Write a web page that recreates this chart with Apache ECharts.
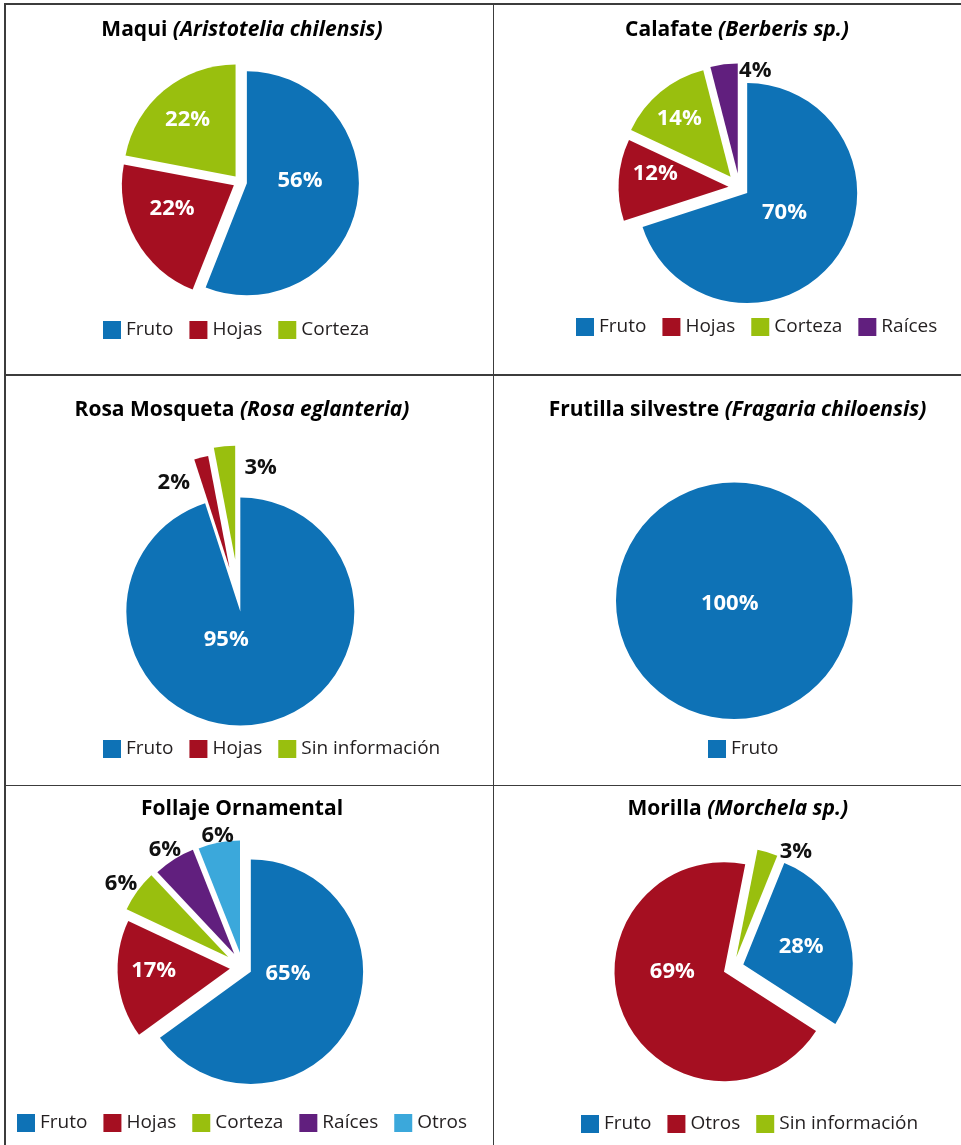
<!DOCTYPE html>
<html><head><meta charset="utf-8">
<script src="https://cdn.jsdelivr.net/npm/echarts@6/dist/echarts.min.js"></script>
<style>
html,body{margin:0;padding:0;background:#fff;}
#chart{position:absolute;left:0;top:0;width:961px;height:1145px;}
.ln{position:absolute;background:#3c3c3c;}
</style></head><body>
<div id="chart"></div>
<div class="ln" style="left:4px;top:3px;width:1.5px;height:1142px"></div>
<div class="ln" style="left:4px;top:3px;width:957px;height:1.5px"></div>
<div class="ln" style="left:492.5px;top:3px;width:1.5px;height:1142px"></div>
<div class="ln" style="left:4px;top:374px;width:957px;height:1.5px"></div>
<div class="ln" style="left:4px;top:784.5px;width:957px;height:1.5px"></div>
<script>
// colours follow slice order (blue, red, green, purple, light blue)
const PAL = ['#0E72B6','#A50F21','#99BF0E','#611F7E','#3BA8DB'];
const FONT = 'Open Sans';

// data (percent of uses per species)
const maquiCats = ['Fruto','Hojas','Corteza'];
const maquiVals = [56,22,22];
const calafateCats = ['Fruto','Hojas','Corteza','Raíces'];
const calafateVals = [70,12,14,4];
const rosaCats = ['Fruto','Hojas','Sin información'];
const rosaVals = [95,2,3];
const frutillaCats = ['Fruto'];
const frutillaVals = [100];
const follajeCats = ['Fruto','Hojas','Corteza','Raíces','Otros'];
const follajeVals = [65,17,6,6,6];
const morillaCats = ['Fruto','Otros','Sin información'];
const morillaVals = [28,69,3];

// panel layout: pie centre/radius, explode per slice, label distance (x radius) and angle shift, dark label flags
const panels = [
  {cats:maquiCats, vals:maquiVals, t1:'Maqui ', t2:'(Aristotelia chilensis)', tx:242, ty:30,
   c:[240,182], r:112, start:90, off:[7,7,7], lr:[0.536,0.653,0.725], la:[-11.8,7.1,-0.6], dark:[0,0,0], lg:[103,330]},
  {cats:calafateCats, vals:calafateVals, t1:'Calafate ', t2:'(Berberis sp.)', tx:737, ty:30,
   c:[739.5,187.5], r:110, start:90, off:[9.5,11,14,14], lr:[0.47,0.776,0.828,1.072], la:[-6.5,5.7,-1.8,14.9], dark:[0,0,0,1], lg:[576,327]},
  {cats:rosaCats, vals:rosaVals, t1:'Rosa Mosqueta ', t2:'(Rosa eglanteria)', tx:242, ty:410.5,
   c:[239.7,607.6], r:114, start:90, off:[4,41,48], lr:[0.305,1.24,1.243], la:[31.7,-13.4,13.9], dark:[0,1,1], lg:[103,749]},
  {cats:frutillaCats, vals:frutillaVals, t1:'Frutilla silvestre ', t2:'(Fragaria chiloensis)', tx:737.5, ty:410,
   c:[734.3,600.7], r:118.3, start:90, off:[0], lr:[0.045], la:[60], dark:[0], lg:[708,749]},
  {cats:follajeCats, vals:follajeVals, t1:'Follaje Ornamental', t2:'', tx:242, ty:809,
   c:[242.8,967.6], r:112.3, start:90, off:[9,13,18,16,15], lr:[0.406,0.794,1.319,1.256,1.198], la:[-19.3,3.7,-1.3,-1.1,0], dark:[0,0,1,1,1], lg:[17,1123]},
  {cats:morillaCats, vals:morillaVals, t1:'Morilla ', t2:'(Morchela sp.)', tx:737.8, ty:809,
   c:[733.1,967.8], r:109.5, start:68, off:[10.7,9.9,11], lr:[0.65,0.556,1.209], la:[0.5,19.2,11.7], dark:[0,0,1], lg:[581,1124]}
];

const NONE = 'rgba(0,0,0,0)';
const series = [], titles = [], legends = [];

panels.forEach(p => {
  titles.push({
    text: '{a|' + p.t1 + '}' + (p.t2 ? '{b|' + p.t2 + '}' : ''),
    left: p.tx, top: p.ty, textAlign: 'center', textVerticalAlign: 'middle', padding: 0,
    textStyle: {rich: {
      a: {fontFamily: FONT, fontWeight: 'bold', fontSize: 21, color: '#000'},
      b: {fontFamily: FONT, fontWeight: 'bold', fontStyle: 'italic', fontSize: 21, color: '#000'}
    }}
  });
  legends.push({
    left: p.lg[0], top: p.lg[1] - 9.5, padding: 0, orient: 'horizontal', selectedMode: false,
    itemWidth: 18, itemHeight: 18, itemGap: 16, icon: 'rect',
    textStyle: {fontFamily: FONT, fontSize: 19, color: '#231F20'},
    data: p.cats.map((n, k) => ({name: n, itemStyle: {color: PAL[k], opacity: 1}}))
  });
  // one pie per slice so every slice gets its own explode distance
  p.vals.forEach((v, j) => {
    series.push({
      type: 'pie', silent: true, animation: false, center: p.c, radius: [0, p.r], startAngle: p.start,
      selectedMode: 'multiple', selectedOffset: p.off[j], avoidLabelOverlap: false,
      label: {show: false}, labelLine: {show: false}, emphasis: {disabled: true},
      itemStyle: {borderWidth: 0},
      data: p.cats.map((n, k) => ({name: n, value: p.vals[k], selected: k === j && p.vals.length > 1,
        itemStyle: {color: k === j ? PAL[k] : NONE}}))
    });
  });
  // label rings: transparent pies whose inside labels land where the chart puts them
  p.vals.forEach((v, j) => {
    const dist = p.lr[j] * p.r;
    series.push({
      type: 'pie', silent: true, animation: false, center: p.c, radius: [0, Math.max(2 * (dist - 3), 1)],
      startAngle: p.start - p.la[j], avoidLabelOverlap: false,
      labelLine: {show: false}, emphasis: {disabled: true},
      data: p.cats.map((n, k) => ({name: n, value: p.vals[k], itemStyle: {color: NONE},
        label: k === j ? {show: true, position: 'inside', formatter: '{c}%', overflow: 'none',
          color: p.dark[j] ? '#111' : '#fff', fontSize: 22, fontWeight: 'bold', fontFamily: FONT} : {show: false}}))
    });
  });
});

const chart = echarts.init(document.getElementById('chart'), null, {renderer: 'canvas'});
chart.setOption({animation: false, backgroundColor: '#fff', title: titles, legend: legends, series: series});
</script>
</body></html>
